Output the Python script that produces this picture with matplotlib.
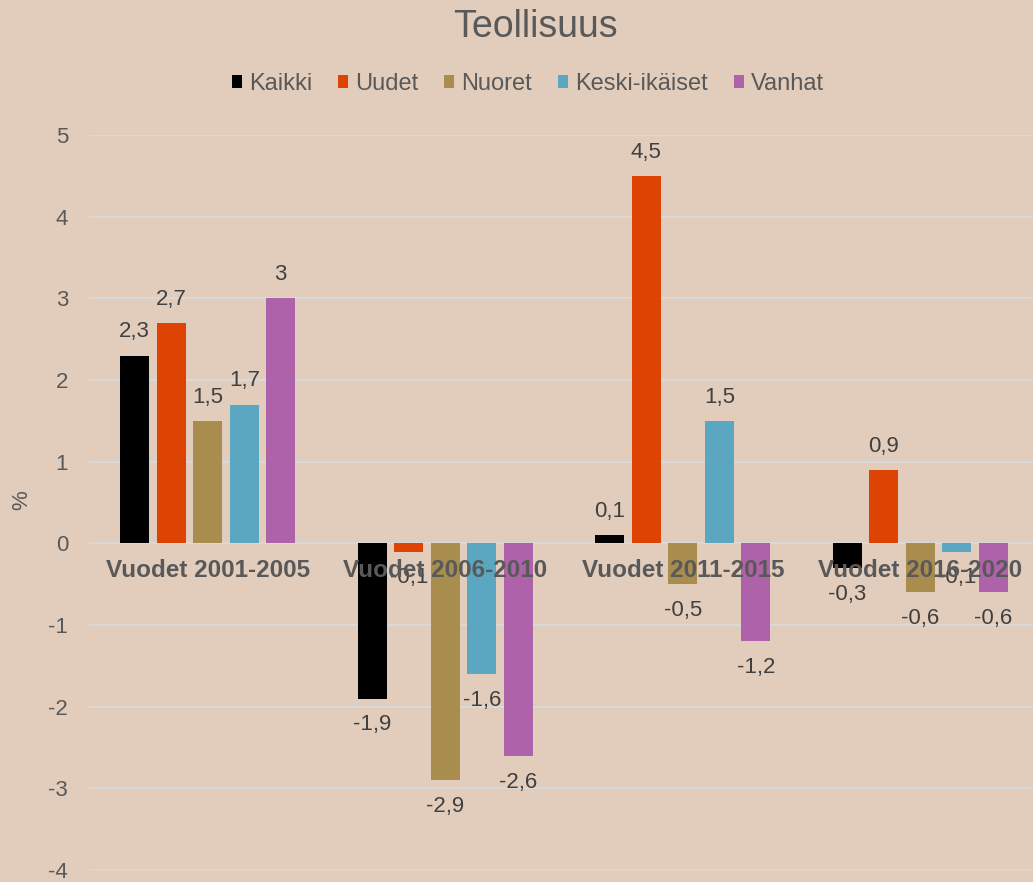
import numpy as np
import matplotlib
matplotlib.use("Agg")
import matplotlib.pyplot as plt

# Datos
jaksot = ["Vuodet 2001-2005", "Vuodet 2006-2010", "Vuodet 2011-2015", "Vuodet 2016-2020"]
sarjat = ["Kaikki", "Uudet", "Nuoret", "Keski-ikäiset", "Vanhat"]
kaikki = [2.3, -1.9, 0.1, -0.3]
uudet = [2.7, -0.1, 4.5, 0.9]
nuoret = [1.5, -2.9, -0.5, -0.6]
keski = [1.7, -1.6, 1.5, -0.1]
vanhat = [3.0, -2.6, -1.2, -0.6]
y_ticks = [-4, -3, -2, -1, 0, 1, 2, 3, 4, 5]

arvot = [kaikki, uudet, nuoret, keski, vanhat]
varit = ["#000000", "#DD4403", "#A98D4F", "#5BA7C2", "#AE62A9"]

tausta = "#E2CDBC"
teksti = "#595959"

plt.rcParams["font.family"] = ["Liberation Sans", "DejaVu Sans"]
plt.rcParams["axes.unicode_minus"] = False

fig = plt.figure(figsize=(10.33, 8.82), dpi=100)
fig.patch.set_facecolor(tausta)

W, H = 1033, 882
ax = fig.add_axes([89 / W, 1 - 870 / H, 950 / W, (870 - 135) / H])
ax.set_facecolor(tausta)

x = np.arange(len(jaksot))
vali = 0.1537
leveys = 0.122

for j, (nimi, vals, vari) in enumerate(zip(sarjat, arvot, varit)):
    pos = x + (j - 2) * vali
    ax.bar(pos, vals, width=leveys, color=vari, label=nimi, zorder=2)
    for xi, v in zip(pos, vals):
        txt = f"{v:g}".replace(".", ",")
        off = 17 if v >= 0 else -19
        ax.annotate(txt, (xi, v), xytext=(0, off), textcoords="offset points",
                    ha="center", va="center", fontsize=16, color="#404040", zorder=3)

# Kategorianimet nollaviivan alle
for xi, nimi in zip(x, jaksot):
    ax.annotate(nimi, (xi, 0), xytext=(0, -19.5), textcoords="offset points",
                ha="center", va="center", fontsize=17.5, fontweight="bold",
                color=teksti, zorder=4)

ax.set_xlim(-0.5, 3.5)
ax.set_ylim(-4, 5)
ax.set_yticks(y_ticks)
ax.set_yticklabels([str(t) for t in y_ticks])
ax.set_xticks([])
ax.tick_params(axis="y", length=0, pad=15, labelsize=16, labelcolor=teksti)
ax.grid(axis="y", color="#D9D9D9", linewidth=1.5, zorder=0)
ax.set_axisbelow(True)
for s in ax.spines.values():
    s.set_visible(False)

fig.text(22 / W, 1 - 500 / H, "%", rotation=90, ha="center", va="center",
         fontsize=16, color=teksti)

fig.text(535 / W, 1 - 27 / H, "Teollisuus", ha="center", va="center",
         fontsize=27, color=teksti)

handles, labels = ax.get_legend_handles_labels()
leg = fig.legend(handles, labels, loc="center", bbox_to_anchor=(528 / W, 1 - 84 / H),
                 ncol=5, frameon=False, fontsize=17, handlelength=0.42,
                 handleheight=0.42, handletextpad=0.3, columnspacing=1.1)
for t in leg.get_texts():
    t.set_color(teksti)

fig.savefig("out.png", dpi=100, facecolor=tausta)
